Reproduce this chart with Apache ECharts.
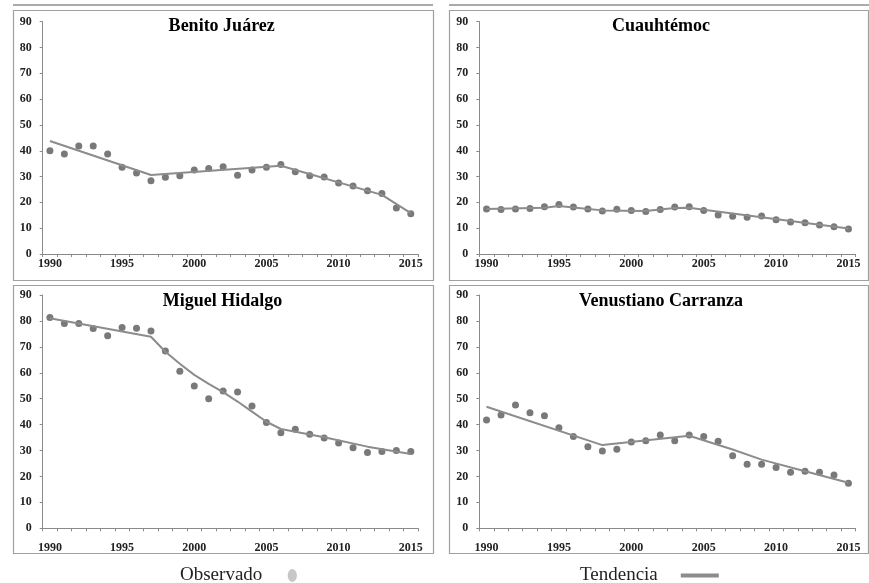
<!DOCTYPE html>
<html>
<head>
<meta charset="utf-8">
<script src="https://cdn.jsdelivr.net/npm/echarts@6/dist/echarts.min.js"></script>
<style>
  html, body { margin: 0; padding: 0; background: #ffffff; }
  #chart { width: 869px; height: 583px; }
</style>
</head>
<body>
<div id="chart"></div>
<script>
// ---- Data ----
const years = ['1990','1991','1992','1993','1994','1995','1996','1997','1998','1999','2000','2001','2002',
               '2003','2004','2005','2006','2007','2008','2009','2010','2011','2012','2013','2014','2015'];
const yTicks = [0, 10, 20, 30, 40, 50, 60, 70, 80, 90];
const panelTitles = ['Benito Juárez', 'Cuauhtémoc', 'Miguel Hidalgo', 'Venustiano Carranza'];

const obsBenitoJuarez = [40.0, 38.7, 41.8, 41.8, 38.7, 33.6, 31.4, 28.4, 29.7, 30.3, 32.5, 33.1, 33.8,
                         30.5, 32.5, 33.6, 34.7, 31.9, 30.3, 29.8, 27.5, 26.3, 24.5, 23.4, 17.8, 15.6];
const trendBenitoJuarez = [['1990', 43.8], ['1997', 30.6], ['2006', 34.2], ['2013', 22.9], ['2015', 15.8]];

const obsCuauhtemoc = [17.4, 17.2, 17.4, 17.6, 18.3, 19.2, 18.2, 17.4, 16.7, 17.3, 16.9, 16.5, 17.2,
                       18.2, 18.3, 16.9, 15.1, 14.6, 14.2, 14.7, 13.3, 12.4, 12.1, 11.2, 10.6, 9.7];
const trendCuauhtemoc = [['1990', 17.4], ['1994', 17.9], ['1995', 18.6], ['1996', 18.0], ['1998', 16.9],
                         ['2001', 16.7], ['2003', 17.8], ['2004', 17.9], ['2005', 17.1], ['2015', 9.9]];

const obsMiguelHidalgo = [81.3, 79.0, 79.0, 77.1, 74.3, 77.5, 77.2, 76.1, 68.4, 60.6, 54.9, 50.0, 53.0,
                          52.6, 47.2, 40.8, 36.9, 38.2, 36.3, 34.8, 32.9, 31.1, 29.2, 29.6, 30.0, 29.6];
const trendMiguelHidalgo = [['1990', 81.0], ['1997', 73.9], ['1998', 68.1], ['1999', 63.5], ['2000', 59.2],
                            ['2001', 55.7], ['2002', 52.5], ['2003', 48.9], ['2004', 45.0], ['2005', 41.1],
                            ['2006', 38.3], ['2009', 35.1], ['2012', 31.5], ['2015', 28.7]];

const obsVenustianoCarranza = [41.8, 43.7, 47.6, 44.6, 43.4, 38.8, 35.4, 31.5, 29.8, 30.5, 33.3, 33.8, 36.0,
                               33.8, 36.0, 35.4, 33.6, 28.0, 24.7, 24.7, 23.5, 21.6, 22.0, 21.6, 20.6, 17.4];
const trendVenustianoCarranza = [['1990', 46.9], ['1998', 32.1], ['2004', 35.7], ['2007', 30.4],
                                 ['2009', 26.5], ['2012', 22.0], ['2015', 17.6]];

const observedSets = [obsBenitoJuarez, obsCuauhtemoc, obsMiguelHidalgo, obsVenustianoCarranza];
const trendSets = [trendBenitoJuarez, trendCuauhtemoc, trendMiguelHidalgo, trendVenustianoCarranza];

// ---- Layout ----
const SERIF = "'Liberation Serif', 'Times New Roman', serif";
const grids = [
  { left: 42.7, top: 21.7, width: 375.3, height: 232.3 },
  { left: 479.3, top: 21.7, width: 376.4, height: 232.3 },
  { left: 42.7, top: 295, width: 375.3, height: 233.3 },
  { left: 479.3, top: 295, width: 376.4, height: 233.3 }
];
const titlePos = [
  { left: 221.7, top: 17 },
  { left: 661, top: 17 },
  { left: 222.5, top: 292.5 },
  { left: 661, top: 292.5 }
];
const xLabelMargin = [4, 4, 14, 14];
const boxes = [
  { x: 13, y: 10, width: 420, height: 270 },
  { x: 449, y: 10, width: 419, height: 270 },
  { x: 13, y: 285, width: 420, height: 268 },
  { x: 449, y: 285, width: 419, height: 268 }
];

const axisColor = '#8a8a8a';
const xAxes = grids.map((g, i) => ({
  type: 'category',
  gridIndex: i,
  data: years,
  boundaryGap: true,
  axisLine: { show: true, lineStyle: { color: axisColor, width: 1 } },
  axisTick: { show: true, interval: 0, length: 3, lineStyle: { color: axisColor } },
  axisLabel: { interval: 4, margin: xLabelMargin[i], color: '#222', fontFamily: SERIF,
               fontWeight: 'bold', fontSize: 12 },
  splitLine: { show: false }
}));
const yAxes = grids.map((g, i) => ({
  type: 'value',
  gridIndex: i,
  min: yTicks[0],
  max: yTicks[yTicks.length - 1],
  interval: yTicks[1] - yTicks[0],
  axisLine: { show: true, lineStyle: { color: axisColor, width: 1 } },
  axisTick: { show: true, length: 3, lineStyle: { color: axisColor } },
  axisLabel: { margin: 11, color: '#222', fontFamily: SERIF, fontWeight: 'bold', fontSize: 12 },
  splitLine: { show: false }
}));

const series = [];
for (let i = 0; i < 4; i++) {
  series.push({
    name: 'Observado',
    type: 'scatter',
    xAxisIndex: i, yAxisIndex: i,
    data: observedSets[i],
    symbol: 'circle',
    symbolSize: 7,
    itemStyle: { color: '#575757' },
    z: 2
  });
  series.push({
    name: 'Tendencia',
    type: 'line',
    xAxisIndex: i, yAxisIndex: i,
    data: trendSets[i],
    showSymbol: false,
    symbol: 'none',
    connectNulls: true,
    lineStyle: { color: '#8c8c8c', width: 2 },
    itemStyle: { color: '#8c8c8c' },
    z: 3
  });
}

const graphics = [];
boxes.forEach(b => {
  graphics.push({
    type: 'rect', shape: { x: b.x + 0.5, y: b.y + 0.5, width: b.width, height: b.height },
    style: { fill: 'none', stroke: '#a0a0a0', lineWidth: 1.2 }, z: -1, silent: true
  });
});
graphics.push({ type: 'line', shape: { x1: 13, y1: 5, x2: 433, y2: 5 },
  style: { stroke: '#aaaaaa', lineWidth: 2 }, silent: true });
graphics.push({ type: 'line', shape: { x1: 449, y1: 5, x2: 869, y2: 5 },
  style: { stroke: '#aaaaaa', lineWidth: 2 }, silent: true });

const option = {
  backgroundColor: '#ffffff',
  animation: false,
  title: panelTitles.map((t, i) => ({
    text: t,
    left: titlePos[i].left,
    top: titlePos[i].top,
    textAlign: 'center',
    padding: 0,
    textStyle: { fontFamily: SERIF, fontWeight: 'bold', fontSize: 18, color: '#000' }
  })),
  legend: [
    {
      data: [{ name: 'Observado', icon: 'path://M5,0A5,7,0,1,1,5,14A5,7,0,1,1,5,0Z',
               itemStyle: { color: '#b9b9b9' } }],
      left: 175, top: 561,
      align: 'right',
      itemWidth: 10, itemHeight: 13,
      selectedMode: false,
      textStyle: { fontFamily: SERIF, fontSize: 19, color: '#222', padding: [0, 20, 0, 0] }
    },
    {
      data: [{ name: 'Tendencia', icon: 'rect', itemStyle: { color: '#8c8c8c' } }],
      left: 575, top: 561,
      align: 'right',
      itemWidth: 38, itemHeight: 4,
      selectedMode: false,
      textStyle: { fontFamily: SERIF, fontSize: 19, color: '#222', padding: [0, 18, 0, 0] }
    }
  ],
  grid: grids,
  xAxis: xAxes,
  yAxis: yAxes,
  series: series,
  graphic: graphics
};

const chart = echarts.init(document.getElementById('chart'), null, { renderer: 'canvas' });
chart.setOption(option);
</script>
</body>
</html>
